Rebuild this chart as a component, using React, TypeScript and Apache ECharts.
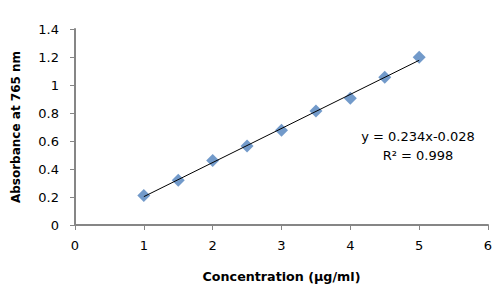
import React, { useEffect, useRef } from "react";
import * as echarts from "echarts";

// Calibration standards: concentration (µg/ml) and measured absorbance at 765 nm
const concentrations = [1, 1.5, 2, 2.5, 3, 3.5, 4, 4.5, 5];
const absorbances = [0.21, 0.32, 0.46, 0.564, 0.677, 0.815, 0.905, 1.056, 1.199];

const equationText = "y = 0.234x-0.028";
const rSquaredText = "R² = 0.998";

// Least-squares linear fit drawn as the trendline
function linearFit(xs: number[], ys: number[]) {
  const n = xs.length;
  const mx = xs.reduce((a, b) => a + b, 0) / n;
  const my = ys.reduce((a, b) => a + b, 0) / n;
  let sxy = 0;
  let sxx = 0;
  for (let i = 0; i < n; i++) {
    sxy += (xs[i] - mx) * (ys[i] - my);
    sxx += (xs[i] - mx) * (xs[i] - mx);
  }
  const slope = sxy / sxx;
  return { slope, intercept: my - slope * mx };
}

const FONT = "'DejaVu Sans', sans-serif";

export default function App() {
  const ref = useRef<HTMLDivElement>(null);

  useEffect(() => {
    if (!ref.current) return;
    const chart = echarts.init(ref.current, undefined, { renderer: "svg" });
    const fit = linearFit(concentrations, absorbances);
    const xMin = concentrations[0];
    const xMax = concentrations[concentrations.length - 1];
    const trend = [
      [xMin, fit.slope * xMin + fit.intercept],
      [xMax, fit.slope * xMax + fit.intercept],
    ];
    const axisLine = { show: true, lineStyle: { color: "#868686", width: 2 } };

    chart.setOption({
      animation: false,
      backgroundColor: "#ffffff",
      grid: { left: 75, right: 14, top: 29, bottom: 62, containLabel: false },
      xAxis: {
        type: "value",
        min: 0,
        max: 6,
        interval: 1,
        name: "Concentration (µg/ml)",
        nameLocation: "middle",
        nameGap: 45,
        nameTextStyle: { fontFamily: FONT, fontSize: 12.7, fontWeight: "bold", color: "#000" },
        axisLine,
        axisTick: { show: true, length: 5, lineStyle: { color: "#868686", width: 1 } },
        axisLabel: { margin: 14, fontFamily: FONT, fontSize: 13, color: "#000" },
        splitLine: { show: false },
      },
      yAxis: {
        type: "value",
        min: 0,
        max: 1.4,
        interval: 0.2,
        name: "Absorbance at 765 nm",
        nameLocation: "middle",
        nameGap: 53,
        nameTextStyle: { fontFamily: FONT, fontSize: 12, fontWeight: "bold", color: "#000" },
        axisLine,
        axisTick: { show: true, length: 5, lineStyle: { color: "#868686", width: 1 } },
        axisLabel: { margin: 16, fontFamily: FONT, fontSize: 13, color: "#000" },
        splitLine: { show: false },
      },
      series: [
        {
          name: "Trendline",
          type: "line",
          data: trend,
          showSymbol: false,
          lineStyle: { color: "#000", width: 1 },
          z: 3,
        },
        {
          name: "Absorbance",
          type: "scatter",
          data: concentrations.map((c, i) => [c, absorbances[i]]),
          symbol: "diamond",
          symbolSize: 13,
          itemStyle: { color: "#4F81BD" },
          z: 2,
        },
      ],
      graphic: [
        {
          type: "text",
          x: 418,
          y: 136,
          style: {
            text: equationText,
            fontFamily: FONT,
            fontSize: 13,
            fill: "#000",
            align: "center",
            verticalAlign: "middle",
          },
        },
        {
          type: "text",
          x: 418,
          y: 155,
          style: {
            text: rSquaredText,
            fontFamily: FONT,
            fontSize: 13,
            fill: "#000",
            align: "center",
            verticalAlign: "middle",
          },
        },
      ],
    });
    return () => chart.dispose();
  }, []);

  return (
    <div
      style={{
        position: "fixed",
        left: 0,
        top: 0,
        width: 502,
        height: 288,
        boxSizing: "border-box",
        border: "1px solid #7f7f7f",
        background: "#fff",
      }}
    >
      <div ref={ref} style={{ position: "absolute", left: -1, top: -1, width: 502, height: 288 }} />
    </div>
  );
}
